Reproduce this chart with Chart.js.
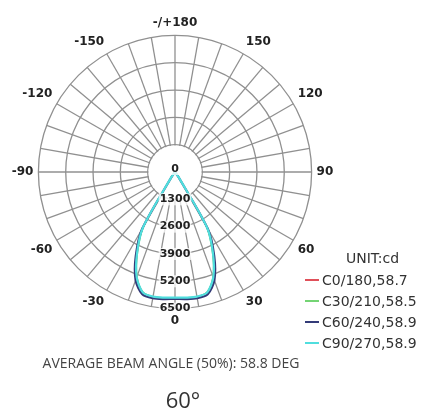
<!DOCTYPE html>
<html>
<head>
<meta charset="utf-8">
<script src="https://cdn.jsdelivr.net/npm/chart.js@4.4.1/dist/chart.umd.min.js"></script>
<style>
  html, body { margin: 0; padding: 0; background: #fff; }
  #wrap { position: relative; width: 422px; height: 416px; overflow: hidden; }
  canvas { position: absolute; left: 0; top: 0; }
  .leg { position: absolute; font-family: "DejaVu Sans", sans-serif; font-size: 14px; color: #333; white-space: nowrap; line-height: 16px; }
  .leg .mk { display: inline-block; width: 14px; height: 2px; vertical-align: middle; margin-right: 3px; position: relative; top: -1px; }
  #unit { position: absolute; left: 346px; top: 250px; font-family: "DejaVu Sans", sans-serif; font-size: 14px; color: #333; line-height: 16px; }
  #beam { position: absolute; left: 0; width: 342px; top: 354px; text-align: center; font-family: "Open Sans", sans-serif; font-size: 14px; color: #444; line-height: 18px; }
  #deg { position: absolute; left: 0; width: 366px; top: 386px; text-align: center; font-family: "Open Sans", sans-serif; font-size: 22px; color: #333; line-height: 26px; }
</style>
</head>
<body>
<div id="wrap">
  <canvas id="c" width="422" height="416"></canvas>
  <div id="unit">UNIT:cd</div>
  <div id="legend"></div>
  <div id="beam">AVERAGE BEAM ANGLE (50%): 58.8 DEG</div>
  <div id="deg">60°</div>
</div>
<script>
// ---- data ----
// gamma angles (degrees from nadir), 5 degree steps
const gamma = [0,5,10,15,20,25,30,35,40,45,50,55,60,65,70,75,80,85,90,95,100,105,110,115,120,125,130,135,140,145,150,155,160,165,170,175,180];
// luminous intensity (cd) per plane, mirrored left/right
const c0_180  = [6000,6020,6030,5920,5300,4250,3000,300,0,0,0,0,0,0,0,0,0,0,0,0,0,0,0,0,0,0,0,0,0,0,0,0,0,0,0,0,0];
const c30_210 = [5980,6000,6020,5900,5280,4200,2950,250,0,0,0,0,0,0,0,0,0,0,0,0,0,0,0,0,0,0,0,0,0,0,0,0,0,0,0,0,0];
const c60_240 = [6040,6070,6100,6020,5480,4420,3120,250,0,0,0,0,0,0,0,0,0,0,0,0,0,0,0,0,0,0,0,0,0,0,0,0,0,0,0,0,0];
const c90_270 = [5980,6000,6020,5930,5330,4280,3050,300,0,0,0,0,0,0,0,0,0,0,0,0,0,0,0,0,0,0,0,0,0,0,0,0,0,0,0,0,0];
const seriesNames  = ['C0/180,58.7','C30/210,58.5','C60/240,58.9','C90/270,58.9'];
const seriesColors = ['#e0505a','#74d474','#333b78','#50dede'];
const seriesWidths = [1.2, 1.2, 2.2, 2.2];
// angle labels every 30 degrees, clockwise from top
const angleLabelValues = [180,150,120,90,60,30,0,-30,-60,-90,-120,-150];
const angleLabelTexts  = ['-/+180','150','120','90','60','30','0','-30','-60','-90','-120','-150'];
// radial ticks (cd)
const radialTicks = [0,1300,2600,3900,5200,6500];

// ---- build radar tables (72 spokes of 5 degrees, clockwise from top = 180) ----
const spokeAngles = [];
for (let i = 0; i < 72; i++) spokeAngles.push(180 - 5 * i);
const radarLabels = spokeAngles.map(a => {
  const k = angleLabelValues.indexOf(a);
  return k >= 0 ? angleLabelTexts[k] : '';
});
const allSeries = [c0_180, c30_210, c60_240, c90_270];
function toRadar(arr) {
  return spokeAngles.map(a => arr[gamma.indexOf(Math.abs(a))]);
}
const datasets = allSeries.map((arr, k) => ({
  label: seriesNames[k],
  data: toRadar(arr),
  borderColor: seriesColors[k],
  borderWidth: seriesWidths[k],
  backgroundColor: 'rgba(0,0,0,0)',
  fill: false,
  pointRadius: 0,
  tension: 0.28
}));
// first dataset is painted last: cyan on top, navy next
const ordered = [datasets[3], datasets[2], datasets[1], datasets[0]];

const gridColor = '#909090';

const innerPlugin = {
  id: 'innerClear',
  beforeDatasetsDraw(chart) {
    const s = chart.scales.r;
    const ctx = chart.ctx;
    const r = s.getDistanceFromCenterForValue(radialTicks[1]);
    ctx.save();
    ctx.beginPath();
    ctx.arc(s.xCenter, s.yCenter, r - 0.8, 0, Math.PI * 2);
    ctx.fillStyle = '#fff';
    ctx.fill();
    ctx.restore();
  },
  afterDatasetsDraw(chart) {
    const s = chart.scales.r;
    const ctx = chart.ctx;
    const bottomIndex = spokeAngles.indexOf(0);
    ctx.save();
    ctx.font = 'bold 11px "DejaVu Sans"';
    ctx.textAlign = 'center';
    ctx.textBaseline = 'middle';
    radialTicks.forEach((v, i) => {
      const p = s.getPointPositionForValue(bottomIndex, v);
      const txt = String(v);
      const w = ctx.measureText(txt).width;
      const y = i === 0 ? p.y - 3 : p.y;
      ctx.fillStyle = 'rgba(255,255,255,0.75)';
      ctx.fillRect(p.x - w / 2 - 1, y - 6, w + 2, 12);
      ctx.fillStyle = '#222';
      ctx.fillText(txt, p.x, y);
    });
    ctx.restore();
  }
};

new Chart(document.getElementById('c'), {
  type: 'radar',
  data: { labels: radarLabels, datasets: ordered },
  options: {
    responsive: false,
    animation: false,
    devicePixelRatio: 1,
    layout: { padding: { left: 7, right: 83, top: 16, bottom: 88 } },
    plugins: { legend: { display: false }, tooltip: { enabled: false }, title: { display: false } },
    scales: {
      r: {
        min: 0,
        max: 6500,
        ticks: { display: false, stepSize: 1300 },
        grid: { circular: true, color: gridColor, lineWidth: 1.3 },
        angleLines: {
          display: true,
          color: gridColor,
          lineWidth: (ctx) => (ctx.index % 2 === 0 ? 1.3 : 0)
        },
        pointLabels: {
          display: true,
          font: { family: '"DejaVu Sans"', size: 12, weight: 'bold' },
          color: '#222',
          padding: 5
        }
      }
    }
  },
  plugins: [innerPlugin]
});

// ---- HTML legend ----
const legendTops = [272, 293, 314, 335];
const legEl = document.getElementById('legend');
seriesNames.forEach((n, k) => {
  const d = document.createElement('div');
  d.className = 'leg';
  d.style.left = '305px';
  d.style.top = legendTops[k] + 'px';
  d.innerHTML = '<span class="mk" style="background:' + seriesColors[k] + '"></span>' + n;
  legEl.appendChild(d);
});
</script>
</body>
</html>
